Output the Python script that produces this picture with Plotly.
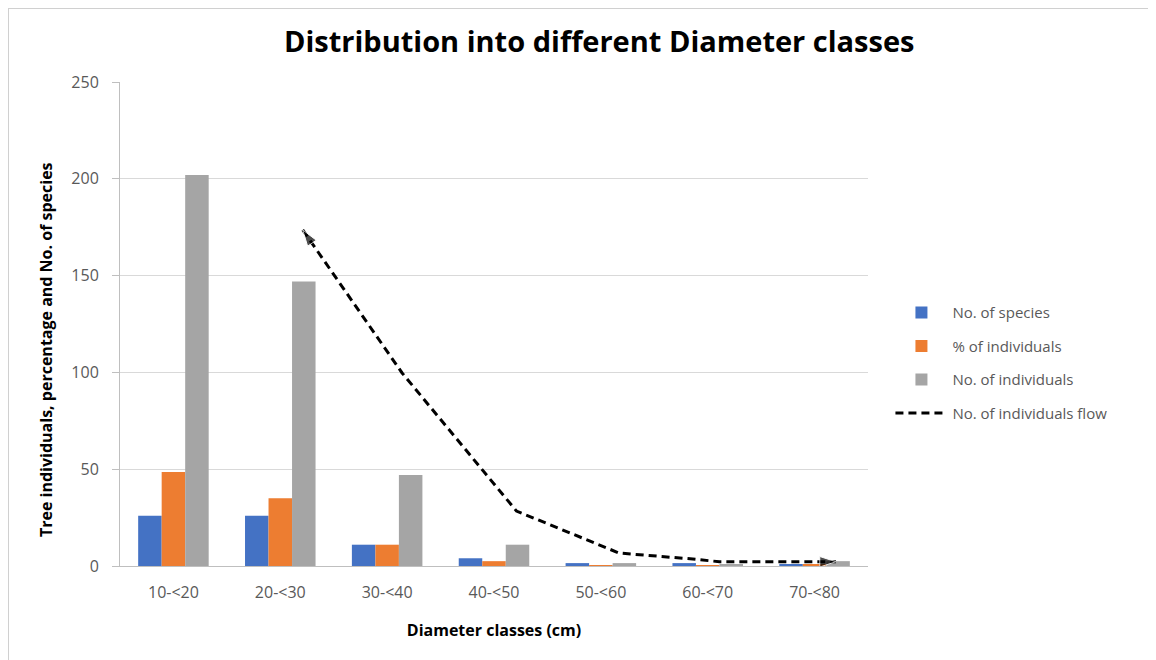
import plotly.graph_objects as go

categories = ["10-<20", "20-<30", "30-<40", "40-<50", "50-<60", "60-<70", "70-<80"]
no_species = [26, 26, 11, 4, 1.5, 1.5, 1]
pct_individuals = [48.5, 35, 11, 2.5, 0.5, 0.3, 1]
no_individuals = [202, 147, 47, 11, 1.5, 1, 2.5]

# freehand "flow" curve, positions in category-index units
flow_x = [1.21, 2.14, 3.21, 4.17, 4.86, 5.11, 6.2]
flow_y = [173.6, 99.7, 28.4, 6.7, 3.6, 2.2, 2.2]

FONT = "Open Sans"
fig = go.Figure()

fig.add_trace(go.Bar(x=categories, y=no_species, name="No. of species", legendgroup="a",
                     marker=dict(color="#4472C4", line=dict(width=0))))
fig.add_trace(go.Bar(x=categories, y=pct_individuals, name="% of individuals", legendgroup="b",
                     marker=dict(color="#ED7D31", line=dict(width=0))))
fig.add_trace(go.Bar(x=categories, y=no_individuals, name="No. of individuals", legendgroup="c",
                     marker=dict(color="#A5A5A5", line=dict(width=0))))

fig.add_trace(go.Scatter(x=flow_x, y=flow_y, xaxis="x2", mode="lines", legendgroup="d",
                         name="No. of individuals flow",
                         line=dict(color="black", width=3, dash="8px,5px")))
# arrow heads
fig.add_trace(go.Scatter(x=[flow_x[1], flow_x[0]], y=[flow_y[1], flow_y[0]], xaxis="x2",
                         mode="markers", showlegend=False, hoverinfo="skip",
                         marker=dict(symbol="arrow", angleref="previous", size=[0, 17],
                                     color="black")))
fig.add_trace(go.Scatter(x=[flow_x[-2], flow_x[-1]], y=[flow_y[-2], flow_y[-1]], xaxis="x2",
                         mode="markers", showlegend=False, hoverinfo="skip",
                         marker=dict(symbol="arrow", angleref="previous", size=[0, 17],
                                     color="black")))

# page has an 8px body margin, so the figure is offset by 8px
W, H = 1148, 652
L, R, T, B = 112, 288, 74, 94
pw = W - L - R
ph = H - T - B

def px(x):
    return (x - L) / pw

def py(y):
    return (H - B - y) / ph

fig.update_layout(
    width=W, height=H,
    margin=dict(l=L, r=R, t=T, b=B),
    paper_bgcolor="white", plot_bgcolor="white",
    barmode="group", bargap=0.34, bargroupgap=0,
    font=dict(family=FONT, color="#595959", size=14),
    title=dict(text="<b>Distribution into different Diameter classes</b>",
               x=0.515, xanchor="center", y=0.948, yanchor="middle",
               font=dict(family=FONT, size=29, color="black")),
    xaxis=dict(type="category", showgrid=False, showline=True, linecolor="#BFBFBF",
               linewidth=1, ticks="", tickfont=dict(size=16, color="#595959"),
               ticklabelstandoff=12,
               title=dict(text="<b>Diameter classes (cm)</b>", standoff=22,
                          font=dict(size=16, color="black")),
               range=[-0.5, 6.5]),
    xaxis2=dict(overlaying="x", range=[-0.5, 6.5], visible=False, type="linear"),
    yaxis=dict(range=[0, 250], dtick=50, showgrid=True, gridcolor="#D9D9D9", gridwidth=1,
               showline=True, linecolor="#BFBFBF", linewidth=1,
               ticks="outside", ticklen=7, tickcolor="#BFBFBF",
               ticklabelstandoff=10,
               tickfont=dict(size=16, color="#595959"), zeroline=False),
    legend=dict(x=1.03, y=0.42, xanchor="left", yanchor="middle",
                font=dict(size=15, color="#595959"), tracegroupgap=11,
                itemwidth=52, bgcolor="rgba(0,0,0,0)"),
    showlegend=True,
)

# y-axis title (placed slightly below the plot centre, as in the reference)
fig.add_annotation(text="<b>Tree individuals, percentage and No. of species</b>",
                   xref="paper", yref="paper", x=px(38), y=py(342),
                   xanchor="center", yanchor="middle", textangle=-90, showarrow=False,
                   font=dict(family=FONT, size=16, color="black"))

# outer frame (top and left edges, as in the reference)
fig.add_shape(type="line", xref="paper", yref="paper", x0=px(0), x1=px(W), y0=py(0), y1=py(0),
              line=dict(color="#D0D0D0", width=2))
fig.add_shape(type="line", xref="paper", yref="paper", x0=px(0), x1=px(0), y0=py(0), y1=py(H),
              line=dict(color="#D0D0D0", width=2))

fig.write_html("out.html")
